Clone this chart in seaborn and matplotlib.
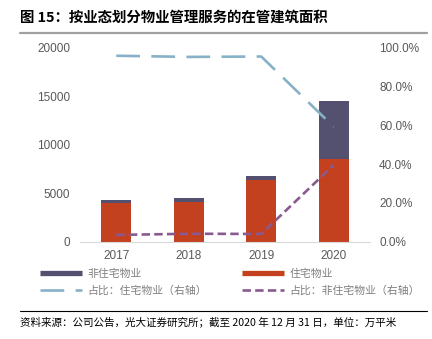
import matplotlib
matplotlib.use("Agg")
import matplotlib.pyplot as plt
from matplotlib.lines import Line2D
import seaborn as sns
import pandas as pd

sns.set_theme(style="white")
plt.rcParams['font.family'] = ['Noto Sans CJK SC', 'DejaVu Sans']

# ---- data ----
years = ['2017', '2018', '2019', '2020']
residential = [4000, 4135, 6410, 8550]          # 住宅物业 (万平米)
non_residential = [280, 380, 410, 6020]         # 非住宅物业 (万平米)
res_share = [96.0, 95.4, 95.6, 59.3]            # 占比：住宅物业 (%)
nonres_share = [3.5, 4.1, 4.0, 39.6]            # 占比：非住宅物业 (%)
left_ticks = [0, 5000, 10000, 15000, 20000]
right_ticks = [0, 20, 40, 60, 80, 100]

df = pd.DataFrame({
    'year': years,
    'res': residential,
    'nonres': non_residential,
})
df['total'] = df['res'] + df['nonres']
df['pos'] = range(len(years))
df['res_share'] = res_share
df['nonres_share'] = nonres_share

C_DARK = '#545170'
C_RED = '#C4411F'
C_BLUE = '#86B1C6'
C_PURPLE = '#8A5990'
C_TXT = '#595959'
C_LEG = '#7F7F7F'

fig = plt.figure(figsize=(4.32, 3.39), dpi=100)
ax = fig.add_axes([80/432, (339-241.7)/339, 290/432, (241.7-48)/339])

sns.barplot(data=df, x='year', y='total', color=C_DARK, saturation=1,
            width=0.41, ax=ax, order=years, linewidth=0)
sns.barplot(data=df, x='year', y='res', color=C_RED, saturation=1,
            width=0.41, ax=ax, order=years, linewidth=0)
ax.set_xlim(-0.5, 3.5)
ax.set_ylim(0, 20000)
ax.set_yticks(left_ticks)
ax.set_yticklabels([str(v) for v in left_ticks])
ax.set_xlabel('')
ax.set_ylabel('')
for s in ['top', 'left', 'right']:
    ax.spines[s].set_visible(False)
ax.spines['bottom'].set_color('#D9D9D9')
ax.spines['bottom'].set_linewidth(0.8)
ax.set_xticks([-0.5, 0.5, 1.5, 2.5, 3.5], minor=True)
ax.tick_params(axis='x', which='major', length=0, pad=6, labelsize=8.5,
               labelcolor=C_TXT)
ax.tick_params(axis='x', which='minor', length=3, color='#D9D9D9', width=0.8)
ax.tick_params(axis='y', length=0, pad=7, labelsize=8.5, labelcolor=C_TXT)
for lbl in ax.get_xticklabels() + ax.get_yticklabels():
    lbl.set_fontfamily(['Liberation Sans', 'DejaVu Sans'])

ax2 = ax.twinx()
sns.lineplot(data=df, x='pos', y='res_share', ax=ax2, color=C_BLUE,
             linewidth=1.9, dashes=False)
sns.lineplot(data=df, x='pos', y='nonres_share', ax=ax2, color=C_PURPLE,
             linewidth=1.9, dashes=False)
ln_blue, ln_purple = ax2.get_lines()[0], ax2.get_lines()[1]
ln_blue.set_dashes((9.0, 4.3))
ln_purple.set_dashes((3.2, 1.6))
ax2.set_ylim(0, 100)
ax2.set_xlim(-0.5, 3.5)
ax2.set_yticks(right_ticks)
ax2.set_yticklabels([f'{v:.1f}%' for v in right_ticks])
ax2.set_ylabel('')
ax2.set_xlabel('')
for s in ['top', 'left', 'right', 'bottom']:
    ax2.spines[s].set_visible(False)
ax2.tick_params(axis='y', length=0, pad=6.5, labelsize=8.5, labelcolor=C_TXT)
for lbl in ax2.get_yticklabels():
    lbl.set_fontfamily(['Liberation Sans', 'DejaVu Sans'])

# legend
h_nonres = Line2D([], [], color=C_DARK, linewidth=3.8, solid_capstyle='butt')
h_res = Line2D([], [], color=C_RED, linewidth=3.8, solid_capstyle='butt')
h_rs = Line2D([], [], color=C_BLUE, linewidth=1.9, dashes=(9.0, 4.3))
h_ns = Line2D([], [], color=C_PURPLE, linewidth=1.9, dashes=(3.2, 1.6))
leg = fig.legend([h_nonres, h_rs, h_res, h_ns],
                 ['非住宅物业', '占比：住宅物业（右轴）', '住宅物业', '占比：非住宅物业（右轴）'],
                 ncol=2, loc='upper left', bbox_to_anchor=(40/432, 1-269/339),
                 frameon=False, fontsize=7.8, handlelength=3.9, handletextpad=0.5,
                 columnspacing=3.2, labelspacing=0.55, borderpad=0, borderaxespad=0)
for t in leg.get_texts():
    t.set_color(C_LEG)

# title and decorations
fig.text(20/432, 1-17.5/339, '图 15：按业态划分物业管理服务的在管建筑面积',
         fontsize=10.4, fontweight='bold', va='center', ha='left', color='black')
fig.add_artist(Line2D([20/432, 427/432], [1-33.3/339, 1-33.3/339],
                      color='#A0A0A0', linewidth=1.6, transform=fig.transFigure))
fig.add_artist(Line2D([20/432, 427/432], [1-311/339, 1-311/339],
                      color='black', linewidth=0.8, transform=fig.transFigure))
fig.text(20/432, 1-322/339,
         '资料来源：公司公告，光大证券研究所；截至 2020 年 12 月 31 日，单位：万平米',
         fontsize=7.6, va='center', ha='left', color='black')

fig.savefig('out.png', dpi=100)
